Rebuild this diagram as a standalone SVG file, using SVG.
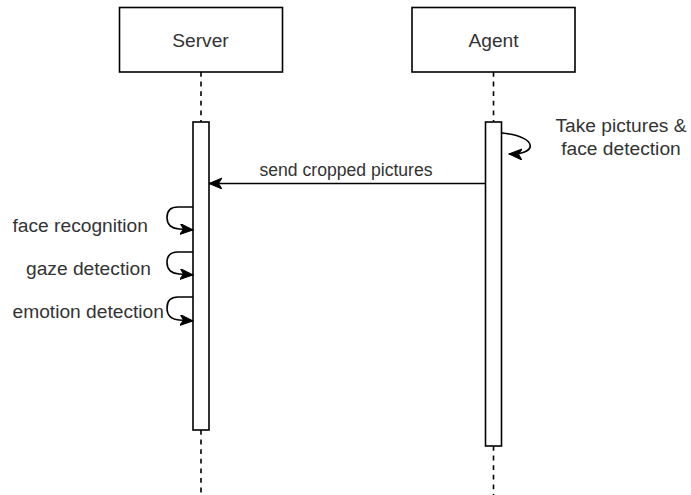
<svg xmlns="http://www.w3.org/2000/svg" width="691" height="495" viewBox="0 0 691 495">
  <style>
    .box { fill: #ffffff; stroke: #000000; stroke-width: 1.6; }
    .life { fill: none; stroke: #000000; stroke-width: 1.6; stroke-dasharray: 4.8 4.8; }
    .act { fill: #ffffff; stroke: #000000; stroke-width: 1.6; }
    .msg { fill: none; stroke: #000000; stroke-width: 1.6; }
    .lbl { font-family: "Liberation Sans", Arial, sans-serif; font-size: 19.2px; fill: #333333; }
    .elbl { font-family: "Liberation Sans", Arial, sans-serif; font-size: 17.6px; fill: #333333; }
  </style>
  <defs>
    <marker id="arrow" markerUnits="userSpaceOnUse" markerWidth="15" markerHeight="13" refX="13" refY="5.5" orient="auto">
      <path d="M0,0 L13,5.5 L0,11 L3.5,5.5 Z" fill="#000000" stroke="#000000" stroke-width="1"/>
    </marker>
  </defs>
  <rect width="691" height="495" fill="#ffffff"/>

  <!-- Server participant -->
  <g id="server">
    <rect class="box" x="119.5" y="7.5" width="163" height="64.5"/>
    <line class="life" x1="201" y1="72" x2="201" y2="122"/>
    <line class="life" x1="201" y1="430" x2="201" y2="495"/>
    <rect class="act" x="193" y="122" width="16" height="308"/>
    <text class="lbl" x="200.5" y="46.5" text-anchor="middle">Server</text>
  </g>

  <!-- Agent participant -->
  <g id="agent">
    <rect class="box" x="412" y="7.5" width="163" height="64.5"/>
    <line class="life" x1="493.5" y1="72" x2="493.5" y2="122"/>
    <line class="life" x1="493.5" y1="446" x2="493.5" y2="495"/>
    <rect class="act" x="485.5" y="122" width="16" height="324"/>
    <text class="lbl" x="493.5" y="46.5" text-anchor="middle">Agent</text>
  </g>

  <!-- Messages and self calls -->
  <g id="connectors">
    <path class="msg" d="M502,133 C540,137 537,155 509,154" marker-end="url(#arrow)"/>
    <path class="msg" d="M485.5,183.5 L209,183.5" marker-end="url(#arrow)"/>
    <path class="msg" d="M193,207 L178,207 Q167,207 167,217.5 Q167,228 179,229 L193,230" marker-end="url(#arrow)"/>
    <path class="msg" d="M193,252 L178,252 Q167,252 167,262.5 Q167,273 179,274 L193,275" marker-end="url(#arrow)"/>
    <path class="msg" d="M193,297 L178,297 Q167,297 167,308 Q167,319 179,320 L193,321" marker-end="url(#arrow)"/>
  </g>

  <!-- Labels -->
  <g id="labels">
    <text class="lbl" x="621" y="132" text-anchor="middle">Take pictures &amp;</text>
    <text class="lbl" x="621" y="154.5" text-anchor="middle">face detection</text>
    <text class="elbl" x="346" y="175.5" text-anchor="middle">send cropped pictures</text>
    <text class="lbl" x="12.5" y="232">face recognition</text>
    <text class="lbl" x="26" y="275">gaze detection</text>
    <text class="lbl" x="12.5" y="318">emotion detection</text>
  </g>
</svg>
